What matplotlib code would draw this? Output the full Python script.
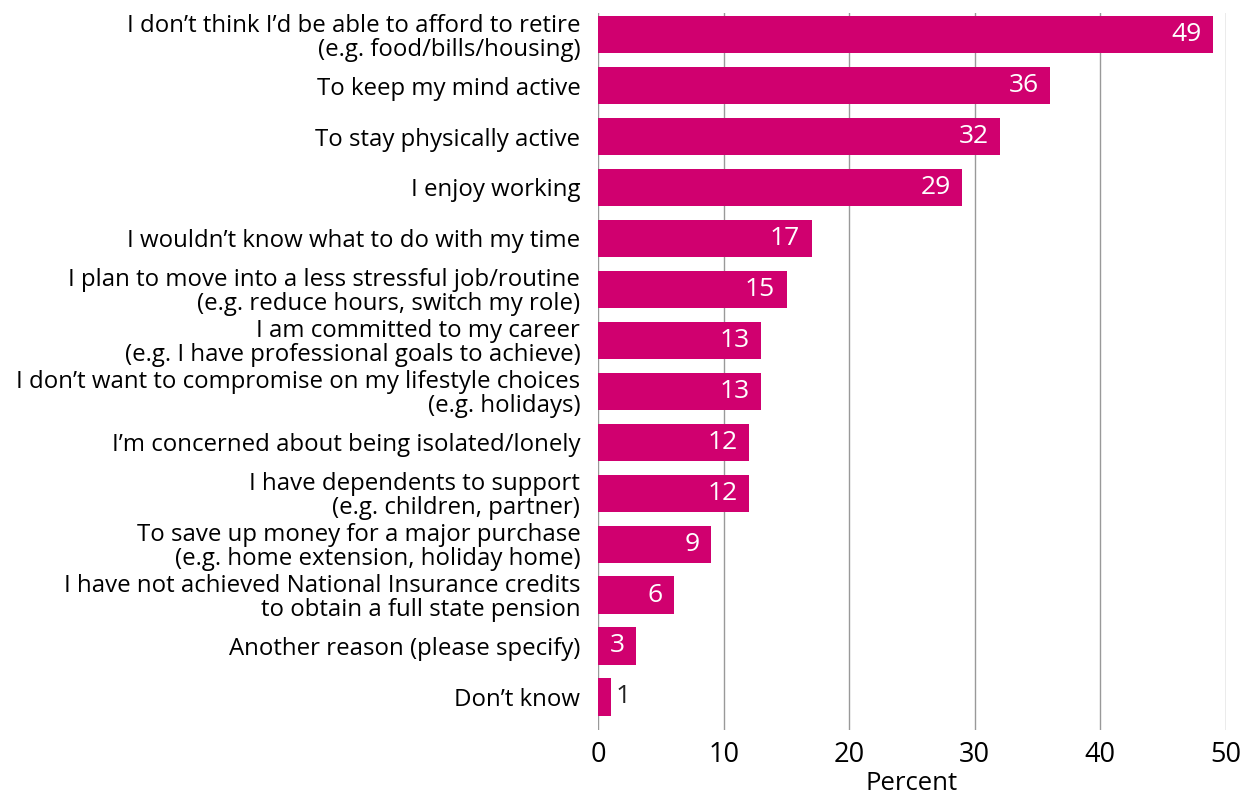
import matplotlib
matplotlib.use("Agg")
import matplotlib.pyplot as plt

categories = [
    "I don\u2019t think I\u2019d be able to afford to retire\n(e.g. food/bills/housing)",
    "To keep my mind active",
    "To stay physically active",
    "I enjoy working",
    "I wouldn\u2019t know what to do with my time",
    "I plan to move into a less stressful job/routine\n(e.g. reduce hours, switch my role)",
    "I am committed to my career\n(e.g. I have professional goals to achieve)",
    "I don\u2019t want to compromise on my lifestyle choices\n(e.g. holidays)",
    "I\u2019m concerned about being isolated/lonely",
    "I have dependents to support\n(e.g. children, partner)",
    "To save up money for a major purchase\n(e.g. home extension, holiday home)",
    "I have not achieved National Insurance credits\nto obtain a full state pension",
    "Another reason (please specify)",
    "Don\u2019t know",
]
values = [49, 36, 32, 29, 17, 15, 13, 13, 12, 12, 9, 6, 3, 1]
xticks = [0, 10, 20, 30, 40, 50]

plt.rcParams['font.family'] = ['Open Sans', 'DejaVu Sans']
color = '#D0006F'

fig = plt.figure(figsize=(12.57, 7.97), dpi=100)
ax = fig.add_axes([0.476, 0.084, 0.499, 0.9])

ypos = list(range(len(categories)))
ax.barh(ypos, values, height=0.73, color=color, zorder=3)
ax.set_ylim(13.65, -0.43)
ax.set_xlim(0, 50)
ax.set_xticks(xticks)
ax.set_yticks(ypos)
ax.set_yticklabels(categories, fontsize=17.3, linespacing=1.0)
ax.tick_params(axis='y', length=0, pad=13)
ax.tick_params(axis='x', length=0, labelsize=19.5, pad=8)
ax.xaxis.grid(True, color='#999999', linewidth=1.0, zorder=0)
for s in ax.spines.values():
    s.set_visible(False)
ax.set_xlabel("Percent", fontsize=18.5, labelpad=1)

for y, v in zip(ypos, values):
    if v >= 3:
        ax.text(v - 0.9, y, str(v), ha='right', va='center', color='white',
                fontsize=19, zorder=4)
    else:
        ax.text(v + 0.4, y, str(v), ha='left', va='center', color='#222222',
                fontsize=19, zorder=4)

fig.savefig("out.png", dpi=100)
